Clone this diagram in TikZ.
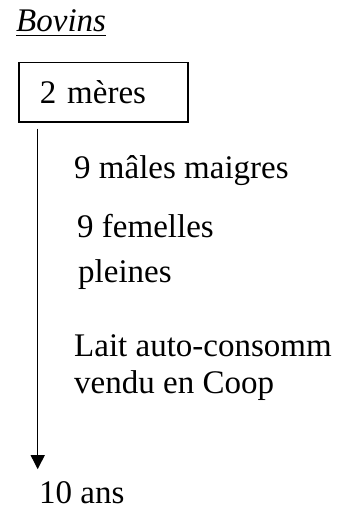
\documentclass[tikz,border=0pt]{standalone}
\usepackage{fontspec}
\setmainfont{Liberation Serif}
\usepackage{tikz}
\usetikzlibrary{arrows.meta, calc}

\begin{document}
\begin{tikzpicture}[
    x=1pt, y=1pt,
    txt/.style={anchor=base west, inner sep=0pt, align=left,
        font=\fontsize{33}{37}\selectfont},
    boite/.style={draw, line width=1.5pt, anchor=north west, inner xsep=21pt,
        minimum width=169pt, minimum height=59pt, text width=127pt, align=left,
        font=\fontsize{33}{37}\selectfont},
    arr/.style={-{Triangle[length=14pt, width=14pt]}, line width=1.3pt}
]
    \useasboundingbox (0,0) rectangle (358,-508);

    % title
    \node[txt, font=\fontsize{33}{37}\itshape] (titre) at (16,-32) {Bovins};
    \draw[line width=1.7pt] ([yshift=-3.5pt]titre.base west) -- ([yshift=-3.5pt]titre.base east);

    % start box
    \node[boite] (meres) at (18,-62) {2 mères};

    % products (base = last line)
    \node[txt] (males) at (74,-178) {9 mâles maigres};
    \node[txt] (femelles) at (77,-282) {9 femelles\\[8pt]\hspace*{1pt}pleines};
    \node[txt] (lait) at (74,-393) {Lait auto-consomm\\vendu en Coop};

    % end
    \node[txt] (ans) at (39,-503) {10 ans};

    % time axis
    \coordinate (debut) at ([xshift=19.7pt, yshift=-6pt]meres.south west);
    \draw[arr] (debut) -- ($(debut |- ans.north)+(0,11.7)$);
\end{tikzpicture}
\end{document}
